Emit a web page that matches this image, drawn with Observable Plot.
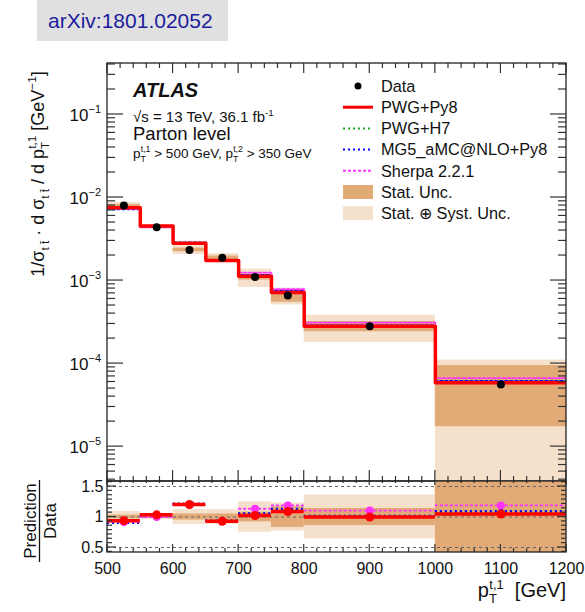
<!DOCTYPE html>
<html><head><meta charset="utf-8">
<script src="https://cdn.jsdelivr.net/npm/d3@7"></script>
<script src="https://cdn.jsdelivr.net/npm/@observablehq/plot@0.6"></script>
<style>
body{margin:0;background:#fff;}
#wrap{position:relative;width:585px;height:612px;font-family:"Liberation Sans",Arial,sans-serif;overflow:hidden}
#arxiv{position:absolute;left:37px;top:0;width:191px;height:41px;background:#e0e0e0;color:#1c1c9c;font-size:21px;line-height:41px;padding-left:11px;box-sizing:border-box;z-index:2}
#main{position:absolute;left:0;top:0}
#ratio{position:absolute;left:0;top:481px}
svg{overflow:visible}
</style></head><body>
<div id="wrap"><div id="arxiv">arXiv:1801.02052</div><div id="main"></div><div id="ratio"></div></div>
<script>
// ---------- data ----------
const binEdges = [500, 550, 600, 650, 700, 750, 800, 1000, 1200];
const dataValues = [8.0e-3, 4.38e-3, 2.34e-3, 1.88e-3, 1.10e-3, 6.6e-4, 2.81e-4, 5.6e-5];
const statUnc  = [0.03, 0.015, 0.05, 0.05, 0.08, 0.17, 0.14, 0.69];
const totalUnc = [0.09, 0.04, 0.12, 0.12, 0.25, 0.23, 0.36, 0.97];
const ratioPy8    = [0.94, 1.035, 1.205, 0.93, 1.025, 1.09, 1.00, 1.05];
const ratioH7     = [0.92, 1.03, 1.21, 0.94, 1.05, 1.12, 1.01, 1.08];
const ratioMG5    = [0.905, 1.02, 1.22, 0.94, 1.06, 1.135, 1.02, 1.095];
const ratioSherpa = [0.92, 1.00, 1.20, 0.935, 1.135, 1.19, 1.105, 1.19];
const xTickLabels = [500, 600, 700, 800, 900, 1000, 1100, 1200];
const logTickLabels = [-1, -2, -3, -4, -5];
const ratioTickLabels = [0.5, 1, 1.5];
const ratioGuides = [0.5, 1, 1.5];
const legendNames = ["Data", "PWG+Py8", "PWG+H7", "MG5_aMC@NLO+Py8", "Sherpa 2.2.1", "Stat. Unc.", "Stat. \u2295 Syst. Unc."];

// ---------- styling ----------
const FONT = "'Liberation Sans', Arial, Helvetica, sans-serif";
const light = "#f5e0cb", dark = "#e2aa76";
const W = 585, mainH = 481, ratioH = 131, mL = 107, mR = 19, mainTop = 63;

const bins = binEdges.slice(0, -1).map((lo, i) => ({
  lo, hi: binEdges[i + 1], mid: (lo + binEdges[i + 1]) / 2,
  d: dataValues[i], stat: statUnc[i], tot: totalUnc[i]
}));
const gens = {
  py8: {r: ratioPy8, color: "#ff0000", dash: null, width: 3.5},
  h7: {r: ratioH7, color: "#1ea81e", dash: "2,3", width: 2.2},
  mg5: {r: ratioMG5, color: "#0000ff", dash: "2,3", width: 2.2},
  sherpa: {r: ratioSherpa, color: "#ff33ff", dash: "3,2", width: 1.8}
};
const drawOrder = ["h7", "mg5", "sherpa", "py8"];
function stepPoints(r) {
  const pts = bins.map((b, i) => ({x: b.lo, y: b.d * r[i]}));
  pts.push({x: binEdges[binEdges.length - 1], y: pts[pts.length - 1].y});
  return pts;
}

// ---------- main panel ----------
const main = Plot.plot({
  width: W, height: mainH,
  marginTop: mainTop, marginBottom: 0, marginLeft: mL, marginRight: mR,
  style: {fontFamily: FONT, background: "transparent", overflow: "visible"},
  x: {domain: [500, 1200], axis: null},
  y: {type: "log", domain: [3.8e-6, 0.411], axis: null},
  marks: [
    Plot.rect(bins, {x1: "lo", x2: "hi", y1: b => b.d * (1 - b.tot), y2: b => b.d * (1 + b.tot), fill: light, clip: true}),
    Plot.rect(bins, {x1: "lo", x2: "hi", y1: b => b.d * (1 - b.stat), y2: b => b.d * (1 + b.stat), fill: dark, clip: true}),
    ...drawOrder.map(k => Plot.line(stepPoints(gens[k].r), {
      x: "x", y: "y", curve: "step-after", stroke: gens[k].color,
      strokeWidth: gens[k].width, strokeDasharray: gens[k].dash, clip: true
    })),
    Plot.dot(bins, {x: "mid", y: "d", r: 4, fill: "#000"})
  ]
});
document.getElementById("main").appendChild(main);

// ---------- ratio panel ----------
const ratio = Plot.plot({
  width: W, height: ratioH,
  marginTop: 0, marginBottom: 60, marginLeft: mL, marginRight: mR,
  style: {fontFamily: FONT, background: "transparent", overflow: "visible"},
  x: {domain: [500, 1200]},
  y: {domain: [0.418, 1.582]},
  marks: [
    Plot.rect(bins, {x1: "lo", x2: "hi", y1: b => 1 - b.tot, y2: b => 1 + b.tot, fill: light, clip: true}),
    Plot.rect(bins, {x1: "lo", x2: "hi", y1: b => 1 - b.stat, y2: b => 1 + b.stat, fill: dark, clip: true}),
    Plot.ruleY(ratioGuides, {stroke: "#666", strokeWidth: 1, strokeDasharray: "3,3"}),
    ...drawOrder.map(k => Plot.ruleY(bins, {
      x1: "lo", x2: "hi", y: (b, i) => gens[k].r[i], stroke: gens[k].color,
      strokeWidth: gens[k].width, strokeDasharray: gens[k].dash
    })),
    Plot.dot(bins, {x: "mid", y: (b, i) => ratioMG5[i], r: 2.5, fill: gens.mg5.color}),
    Plot.dot(bins, {x: "mid", y: (b, i) => ratioSherpa[i], r: 4, fill: gens.sherpa.color}),
    Plot.dot(bins, {x: "mid", y: (b, i) => ratioPy8[i], r: 4.5, fill: gens.py8.color}),
    Plot.axisX({ticks: xTickLabels, tickSize: 0, tickPadding: 10, fontSize: 16, fill: "#111", label: null,
      tickFormat: d => String(d)}),
    Plot.axisY({ticks: ratioTickLabels, tickSize: 0, tickPadding: 4, fontSize: 16, fill: "#111", label: null,
      tickFormat: d => String(d)})
  ]
});
document.getElementById("ratio").appendChild(ratio);

// ---------- helpers ----------
function rich(sel, parts, size) {
  let shift = 0;
  parts.forEach(p => {
    const fs = p.sup || p.sub ? size * 0.65 : size;
    const target = p.sup ? -size * 0.42 : p.sub ? size * 0.28 : 0;
    const t = sel.append("tspan").attr("font-size", fs).attr("dy", target - shift).text(p.t);
    if (p.dx) t.attr("dx", p.dx * size);
    shift = target;
  });
}
const INK = "#111";
function addText(svg, x, y, size, anchor) {
  return svg.append("text").attr("x", x).attr("y", y).attr("text-anchor", anchor || "start")
    .attr("font-family", FONT).attr("font-size", size).attr("fill", INK);
}

// ---------- main decorations ----------
{
  const svg = d3.select(main);
  const sx = main.scale("x"), sy = main.scale("y");
  const x0 = sx.apply(500), x1 = sx.apply(1200);
  const yT = sy.apply(0.411), yB = sy.apply(3.8e-6);
  const g = svg.append("g").attr("stroke", "#333").attr("stroke-width", 1.2).attr("fill", "none");
  for (let v = 500; v <= 1200; v += 20) {
    const major = v % 100 === 0;
    const px = sx.apply(v);
    g.append("line").attr("x1", px).attr("x2", px).attr("y1", yT).attr("y2", yT + (major ? 10 : 5));
    g.append("line").attr("x1", px).attr("x2", px).attr("y1", yB).attr("y2", yB - (major ? 11 : 5));
  }
  for (let n = -6; n <= 0; n++) {
    for (let k = 1; k <= 9; k++) {
      const v = k * Math.pow(10, n);
      if (v < 3.8e-6 || v > 0.411) continue;
      const py = sy.apply(v), len = k === 1 ? 16 : 8;
      g.append("line").attr("x1", x0).attr("x2", x0 + len).attr("y1", py).attr("y2", py);
      g.append("line").attr("x1", x1).attr("x2", x1 - len).attr("y1", py).attr("y2", py);
    }
  }
  svg.append("rect").attr("x", x0).attr("y", yT).attr("width", x1 - x0).attr("height", yB - yT)
    .attr("fill", "none").attr("stroke", "#222").attr("stroke-width", 1.3);
  logTickLabels.forEach(n => {
    const py = sy.apply(Math.pow(10, n));
    const t = addText(svg, 101, py + 7, 17, "end");
    t.append("tspan").text("10");
    t.append("tspan").attr("font-size", 11).attr("dy", -8).text("\u2212" + Math.abs(n));
  });
  const yt = svg.append("text").attr("transform", "translate(44,174) rotate(-90)").attr("text-anchor", "middle")
    .attr("fill", INK).attr("font-family", FONT).attr("font-size", 18);
  rich(yt, [
    {t: "1/\u03c3"}, {t: "t t\u0304", sub: true}, {t: " \u00b7 d \u03c3"}, {t: "t t\u0304", sub: true},
    {t: " / d p"}, {t: "T", sub: true}, {t: "t,1", sup: true, dx: -0.38}, {t: " [GeV"}, {t: "\u22121", sup: true}, {t: "]"}
  ], 18);
  addText(svg, 133, 97, 20).attr("font-weight", "bold").attr("font-style", "italic").text("ATLAS");
  rich(addText(svg, 133, 122, 15), [{t: "\u221as = 13 TeV, 36.1 fb"}, {t: "-1", sup: true}], 15);
  addText(svg, 133, 140, 18.5).text("Parton level");
  rich(addText(svg, 133, 158, 13.5), [{t: "p"}, {t: "T", sub: true}, {t: "t,1", sup: true, dx: -0.38}, {t: " > 500 GeV, p"},
    {t: "T", sub: true}, {t: "t,2", sup: true, dx: -0.38}, {t: " > 350 GeV"}], 13.5);
  // legend
  const lx0 = 343, lx1 = 373, tx = 381, ly0 = 86, dyL = 21.2;
  const rowY = i => ly0 + i * dyL;
  svg.append("circle").attr("cx", (lx0 + lx1) / 2).attr("cy", rowY(0)).attr("r", 3.5).attr("fill", "#000");
  ["py8", "h7", "mg5", "sherpa"].forEach((k, j) => {
    const gg = gens[k];
    svg.append("line").attr("x1", lx0).attr("x2", lx1).attr("y1", rowY(j + 1)).attr("y2", rowY(j + 1))
      .attr("stroke", gg.color).attr("stroke-width", k === "py8" ? 3 : 2).attr("stroke-dasharray", gg.dash);
  });
  svg.append("rect").attr("x", lx0).attr("y", rowY(5) - 7).attr("width", lx1 - lx0).attr("height", 14).attr("fill", dark);
  svg.append("rect").attr("x", lx0).attr("y", rowY(6) - 7).attr("width", lx1 - lx0).attr("height", 14).attr("fill", light);
  legendNames.forEach((nm, i) => { addText(svg, tx, rowY(i) + 5.8, 16.3).text(nm); });
}

// ---------- ratio decorations ----------
{
  const svg = d3.select(ratio);
  const sx = ratio.scale("x"), sy = ratio.scale("y");
  const x0 = sx.apply(500), x1 = sx.apply(1200);
  const yT = sy.apply(1.582), yB = sy.apply(0.418);
  const g = svg.append("g").attr("stroke", "#333").attr("stroke-width", 1.2).attr("fill", "none");
  for (let v = 500; v <= 1200; v += 20) {
    const major = v % 100 === 0;
    const px = sx.apply(v);
    g.append("line").attr("x1", px).attr("x2", px).attr("y1", yT).attr("y2", yT + (major ? 4 : 2));
    g.append("line").attr("x1", px).attr("x2", px).attr("y1", yB).attr("y2", yB - (major ? 8 : 4));
  }
  for (let k = 0; k <= 16; k++) {
    const v = 0.5 + (k - 1) * 0.5 / 7;
    if (v < 0.418 || v > 1.582) continue;
    const major = Math.abs(v - 0.5) < 1e-6 || Math.abs(v - 1) < 1e-6 || Math.abs(v - 1.5) < 1e-6;
    const py = sy.apply(v), len = major ? 9 : 5;
    g.append("line").attr("x1", x0).attr("x2", x0 + len).attr("y1", py).attr("y2", py);
    g.append("line").attr("x1", x1).attr("x2", x1 - len).attr("y1", py).attr("y2", py);
  }
  svg.append("rect").attr("x", x0).attr("y", yT).attr("width", x1 - x0).attr("height", yB - yT)
    .attr("fill", "none").attr("stroke", "#222").attr("stroke-width", 1.3);
  svg.append("text").attr("transform", "translate(36,40) rotate(-90)").attr("text-anchor", "middle")
    .attr("font-family", FONT).attr("font-size", 17).attr("fill", INK).text("Prediction");
  svg.append("line").attr("x1", 39.5).attr("x2", 39.5).attr("y1", -1).attr("y2", 81).attr("stroke", INK).attr("stroke-width", 1.3);
  svg.append("text").attr("transform", "translate(56,40) rotate(-90)").attr("text-anchor", "middle")
    .attr("font-family", FONT).attr("font-size", 17).attr("fill", INK).text("Data");
  rich(addText(svg, x1, 116, 20, "end"), [{t: "p"}, {t: "T", sub: true}, {t: "t,1", sup: true, dx: -0.38}, {t: "  [GeV]"}], 20);
}
</script>
</body></html>
